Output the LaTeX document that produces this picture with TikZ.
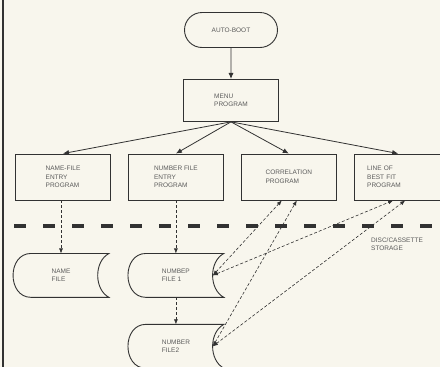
\documentclass[tikz,border=0pt]{standalone}
\usepackage{fontspec}
\setsansfont{Liberation Sans}
\usetikzlibrary{arrows.meta,positioning,shapes.misc}
\definecolor{paper}{RGB}{248,246,237}
\definecolor{ink}{RGB}{50,50,50}
\definecolor{print}{RGB}{90,90,90}

\begin{document}
\begin{tikzpicture}[
 x=1pt,y=-1pt,
 node distance=17pt and 17pt,
 box/.style={draw=ink,line width=0.9pt,align=left,font=\sffamily\fontsize{6.5}{8.5}\selectfont,text=print,minimum width=95pt,minimum height=46pt,inner sep=2pt},
 menubox/.style={box,minimum height=42pt},
 terminal/.style={box,rounded rectangle,minimum width=97pt,minimum height=35pt},
 store/.style={box,draw=none,minimum height=43pt},
 outline/.style={draw=ink,line width=0.9pt},
 note/.style={align=left,font=\sffamily\fontsize{6.5}{8.5}\selectfont,text=print,inner sep=0pt},
 flow/.style={-{Latex[length=6pt,width=5pt]},draw=ink,line width=0.8pt},
 access/.style={draw=ink,dash pattern=on 3pt off 2pt,line width=0.6pt,-{Latex[length=5pt,width=4pt]}},
 twoway/.style={access,{Latex[length=5pt,width=4pt]}-{Latex[length=5pt,width=4pt]}},
 divider/.style={draw=ink,line width=3.5pt,dash pattern=on 12pt off 17pt}]
\useasboundingbox (0,0) rectangle (440,367);
\clip (0,0) rectangle (440,367);
\fill[paper] (0,0) rectangle (440,367);
\draw[ink,line width=1.2pt] (3,0) -- (3,367);
\node[terminal] (boot) at (231,30) {AUTO-BOOT};
\node[menubox,below=31pt of boot] (menu) {MENU\\PROGRAM};
\node[box] (nameentry) at (63,177) {NAME-FILE\\ENTRY\\PROGRAM};
\node[box,right=of nameentry] (numentry) {NUMBER FILE\\ENTRY\\PROGRAM};
\node[box,right=of numentry] (correl) {CORRELATION\\PROGRAM};
\node[box,right=of correl,minimum width=88pt,text width=62pt] (bestfit) {LINE OF\\BEST FIT\\PROGRAM};
\node[store,below=53pt of nameentry,xshift=-2pt] (namefile) {NAME\\FILE};
\node[store,below=53pt of numentry] (numfile1) {NUMBEP\\FILE 1};
\node[store,below=27pt of numfile1] (numfile2) {NUMBER\\FILE2};
\foreach \s in {namefile,numfile1,numfile2}
  \draw[outline] ([xshift=18pt]\s.north west) -- (\s.north east)
    .. controls +(-15pt,-8pt) and +(-15pt,8pt) .. (\s.south east)
    -- ([xshift=18pt]\s.south west)
    .. controls +(-24pt,0pt) and +(-24pt,0pt) .. ([xshift=18pt]\s.north west) -- cycle;
\coordinate (in1) at ([xshift=-11pt]numfile1.east);
\coordinate (in2) at ([xshift=-11pt]numfile2.east);
\draw[divider] (14,226) -- (440,226);
\node[note,anchor=west] (storage) at (371,244) {DISC/CASSETTE\\STORAGE};
\draw[flow] (boot) -- (menu);
\draw[flow] (menu.south) -- (nameentry.north);
\draw[flow] (menu.south) -- (numentry.north);
\draw[flow] (menu.south) -- (correl.north);
\draw[flow] (menu.south) -- (bestfit.north);
\draw[access] (nameentry.south -| namefile.north) -- (namefile.north);
\draw[access] (numentry.south) -- (numfile1.north);
\draw[access] (numfile1.south) -- (numfile2.north);
\draw[twoway] (in1) -- ([xshift=-7pt]correl.south);
\draw[twoway] (in1) -- ([xshift=-5pt]bestfit.south);
\draw[twoway] (in2) -- ([xshift=8pt]correl.south);
\draw[twoway] (in2) -- ([xshift=7pt]bestfit.south);
\end{tikzpicture}
\end{document}
